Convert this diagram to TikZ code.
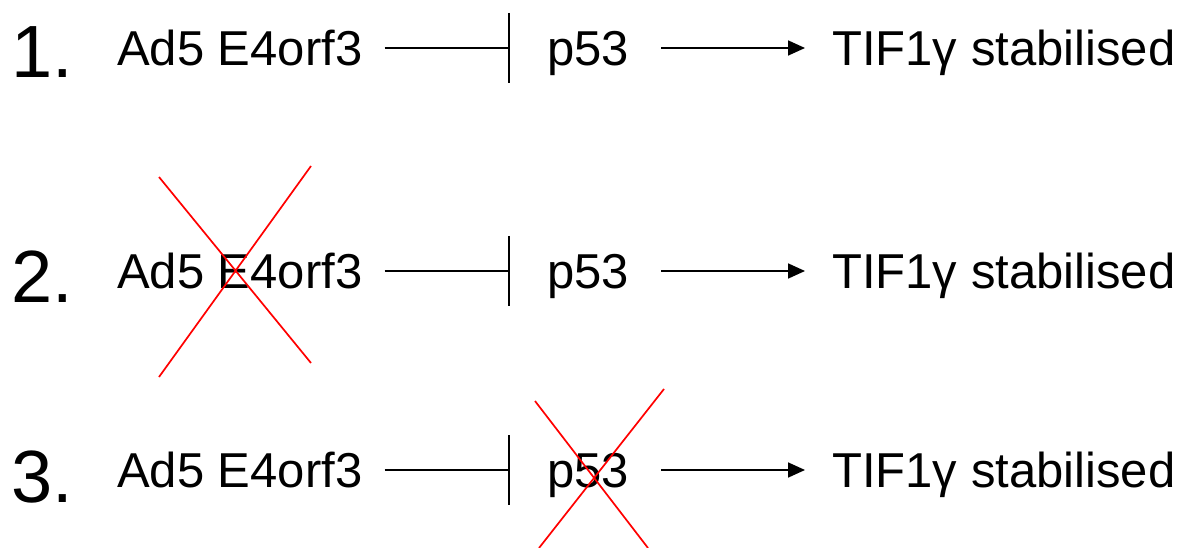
\documentclass[tikz,border=0pt]{standalone}
\usepackage{fontspec}
\setmainfont{Liberation Sans}
\usetikzlibrary{arrows.meta}
\begin{document}
\begin{tikzpicture}[x=1pt,y=-1pt,
  lbl/.style={inner sep=0pt, anchor=west, text height=35pt, text depth=0pt,
    font=\fontsize{49}{57}\selectfont},
  num/.style={inner sep=0pt, anchor=base west, font=\fontsize{74}{85}\selectfont},
  inhibit/.style={line width=1.7pt, -{Bar[width=70pt,line width=1.7pt]},
    shorten <=22pt, shorten >=37pt},
  activate/.style={line width=1.7pt, -{Triangle[length=17pt,width=15pt]},
    shorten <=32pt, shorten >=27pt},
  cross/.style={red, line width=1.7pt}]
  \useasboundingbox (0,0) rectangle (1194,548);

  % three rows of the same pathway
  \foreach \r/\ly/\nb in {1/48/78, 2/271/302, 3/470/502} {
    \node[num] (n\r) at (11,\nb) {\r.};
    \node[lbl] (ad\r) at (117,\ly) {Ad5 E4orf3};
    \node[lbl] (p\r) at (547,\ly) {p53};
    \node[lbl] (tif\r) at (832,\ly) {TIF1γ stabilised};
    \draw[inhibit] (ad\r.east) -- (p\r.west);
    \draw[activate] (p\r.east) -- (tif\r.west);
  }

  % knock-outs
  \draw[cross] (159,177) -- (311,363);
  \draw[cross] (311,166) -- (159,377);
  \draw[cross] (535,401) -- (648,548);
  \draw[cross] (664,389) -- (539,548);
\end{tikzpicture}
\end{document}
